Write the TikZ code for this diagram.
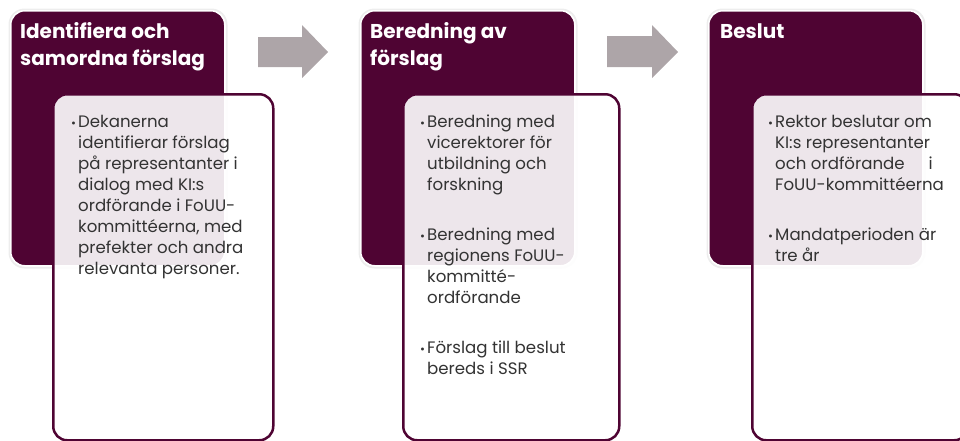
\documentclass[tikz,border=0pt]{standalone}
\usepackage{fontspec}
\setmainfont{Poppins}
\definecolor{plum}{HTML}{4F0433}
\definecolor{arrowgray}{HTML}{ADA5A8}
\definecolor{bodytext}{HTML}{333333}
\newcommand\mylines[1]{\parbox[t]{210pt}{\raggedright #1}}
\tikzset{
  darkbox/.style={draw=white, line width=1.5pt, fill=plum, rounded corners=14pt,
    minimum width=214pt, minimum height=255pt, anchor=north west, inner sep=0pt},
  darkshadow/.style={draw=black!7, line width=2pt, rounded corners=15pt,
    minimum width=217pt, minimum height=258pt, anchor=north west, inner sep=0pt},
  whitebox/.style={draw=plum, line width=2.5pt, fill=white, fill opacity=0.9, draw opacity=1,
    rounded corners=14pt, minimum height=346pt, anchor=north west, inner sep=0pt},
  titletext/.style={anchor=base west, text=white, font=\fontsize{20}{27}\selectfont\bfseries,
    inner sep=0pt},
  bodytxt/.style={anchor=base west, text=bodytext, font=\fontsize{16.6}{21}\selectfont,
    inner sep=0pt},
  bullet/.style={anchor=base west, text=bodytext, font=\fontsize{12}{21}\selectfont, inner sep=0pt},
  arrowfill/.style={fill=arrowgray}
}
\begin{document}
\begin{tikzpicture}[x=1pt,y=-1pt]
\useasboundingbox (0,0) rectangle (960,440);
% dark header boxes
\foreach \xx/\nm in {10/1,360/2,708/3}{
  \node[darkshadow] (s\nm) at (\xx-1.5,8.5) {};
  \node[darkbox] (d\nm) at (\xx,10) {};
}
% white content boxes
\node[whitebox, minimum width=220pt] (w1) at (52,93) {};
\node[whitebox, minimum width=216pt] (w2) at (402,93) {};
\node[whitebox, minimum width=216pt] (w3) at (751,93) {};
% titles
\node[titletext] (t1) at (20,38) {\mylines{Identifiera och\\samordna förslag}};
\node[titletext] (t2) at (370,38) {\mylines{Beredning av\\förslag}};
\node[titletext] (t3) at (720,38) {\mylines{Beslut}};
% arrows
\coordinate (a1) at (258,52);
\fill[arrowfill] (a1) ++(0,-15) -- ++(44,0) -- ++(0,-12) -- ++(26,27) -- ++(-26,26) -- ++(0,-11) -- ++(-44,0) -- cycle;
\coordinate (a2) at (607,52);
\fill[arrowfill] (a2) ++(0,-16) -- ++(45,0) -- ++(0,-11) -- ++(26,27) -- ++(-26,26) -- ++(0,-11) -- ++(-45,0) -- cycle;
% panel 1 body
\node[bullet] (b11) at (71,127) {•};
\node[bodytxt] (p11) at (78,127) {\mylines{Dekanerna\\identifierar förslag\\på representanter i\\dialog med KI:s\\ordförande i FoUU-\\kommittéerna, med\\prefekter och andra\\relevanta personer.}};
% panel 2 body
\node[bullet] (b21) at (420,127) {•};
\node[bodytxt] (p21) at (427,127) {\mylines{Beredning med\\vicerektorer för\\utbildning och\\forskning}};
\node[bullet] (b22) at (420,240) {•};
\node[bodytxt] (p22) at (427,240) {\mylines{Beredning med\\regionens FoUU-\\kommitté-\\ordförande}};
\node[bullet] (b23) at (420,353) {•};
\node[bodytxt] (p23) at (427,353) {\mylines{Förslag till beslut\\bereds i SSR}};
% panel 3 body
\node[bullet] (b31) at (768,127) {•};
\node[bodytxt] (p31) at (775,127) {\mylines{Rektor beslutar om\\KI:s representanter\\och ordförande\hspace{24pt}i\\FoUU-kommittéerna}};
\node[bullet] (b32) at (768,240) {•};
\node[bodytxt] (p32) at (775,240) {\mylines{Mandatperioden är\\tre år}};
\end{tikzpicture}
\end{document}
